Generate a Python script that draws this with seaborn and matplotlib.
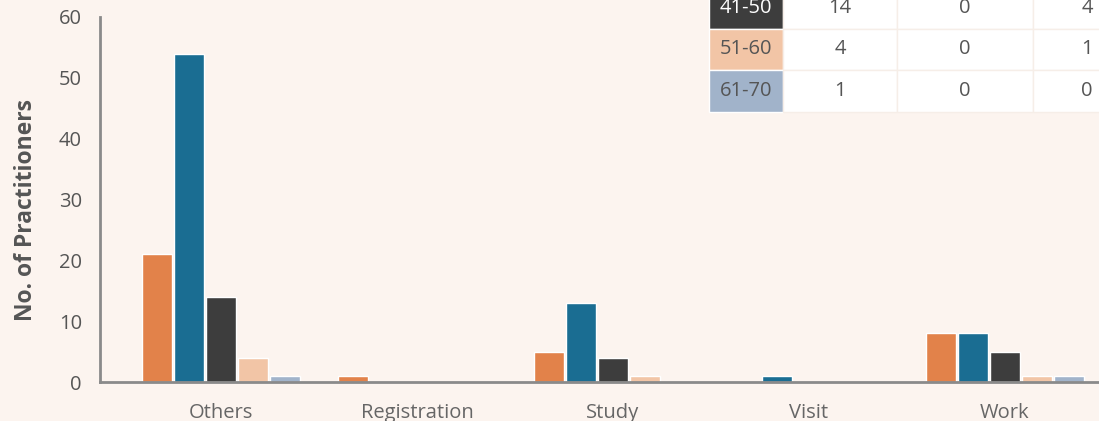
import pandas as pd
import matplotlib.pyplot as plt
import seaborn as sns

# Data: practitioners by visa purpose and age group
categories = ['Others', 'Registration', 'Study', 'Visit', 'Work']
age_groups = ['21-30', '31-40', '41-50', '51-60', '61-70']
age_21_30 = [21, 1, 5, 0, 8]
age_31_40 = [54, 0, 13, 1, 8]
age_41_50 = [14, 0, 4, 0, 5]
age_51_60 = [4, 0, 1, 0, 1]
age_61_70 = [1, 0, 0, 0, 1]
yticks = [0, 10, 20, 30, 40, 50, 60]

colors = ['#E2824A', '#1A6D92', '#3D3D3D', '#F2C5A6', '#A1B3CA']
bg = '#FCF4EF'
axis_grey = '#8a8a8a'
text_grey = '#555555'

series = [age_21_30, age_31_40, age_41_50, age_51_60, age_61_70]
rows = []
for age, vals in zip(age_groups, series):
    for cat, v in zip(categories, vals):
        rows.append({'Category': cat, 'Age': age, 'Count': v})
df = pd.DataFrame(rows)

sns.set_style('white')
plt.rcParams['font.family'] = ['Open Sans', 'DejaVu Sans']

fig = plt.figure(figsize=(10.99, 4.21), dpi=100, facecolor=bg)
ax = fig.add_axes([100 / 1099, 39 / 421, 999 / 1099, 365 / 421])
ax.set_facecolor(bg)

sns.barplot(data=df, x='Category', y='Count', hue='Age', order=categories,
            hue_order=age_groups, palette=colors, width=0.82, gap=0.07,
            saturation=1, legend=False, ax=ax)

ax.set_xlim(-0.617, 4.48)
ax.set_ylim(0, 60)
ax.set_yticks(yticks)
ax.set_xlabel('')
ax.set_ylabel('No. of Practitioners', fontsize=16.5, fontweight='bold', color=text_grey)
ax.yaxis.set_label_coords(-0.062, 0.47)

for s in ['top', 'right']:
    ax.spines[s].set_visible(False)
for s in ['left', 'bottom']:
    ax.spines[s].set_color(axis_grey)
    ax.spines[s].set_linewidth(2)

ax.tick_params(axis='y', direction='in', length=17, width=2, color=axis_grey,
               labelsize=14.5, labelcolor=text_grey, pad=13)
ax.tick_params(axis='x', which='major', length=0, labelsize=14.5,
               labelcolor='#666666', pad=15)
ax.set_xticks([i + 0.5 for i in range(len(categories) - 1)], minor=True)
ax.tick_params(axis='x', which='minor', direction='inout', length=17, width=1.5,
               color='#666666')

# Table of counts (top-right, partly outside the figure)
col_px = [74, 114, 136, 108, 110, 110]
col_w = [w / 999 for w in col_px]
header = ['Age'] + categories
cell_text = [header] + [[age] + [str(v) for v in vals]
                        for age, vals in zip(age_groups, series)]
tab = ax.table(cellText=cell_text, colWidths=col_w, cellLoc='center',
               bbox=[609 / 999, 270 / 365, sum(col_w), 250 / 365])
tab.auto_set_font_size(False)
tab.set_fontsize(14.5)
for (r, c), cell in tab.get_celld().items():
    cell.set_clip_on(False)
    cell.set_edgecolor('#f6eee8')
    cell.set_linewidth(1)
    cell.set_facecolor('white')
    cell.get_text().set_color(text_grey)
    if r > 0 and c == 0:
        cell.set_facecolor(colors[r - 1])
        cell.set_edgecolor('white')
        if r <= 3:
            cell.get_text().set_color('white')

plt.savefig('out.png', dpi=100, facecolor=bg)
